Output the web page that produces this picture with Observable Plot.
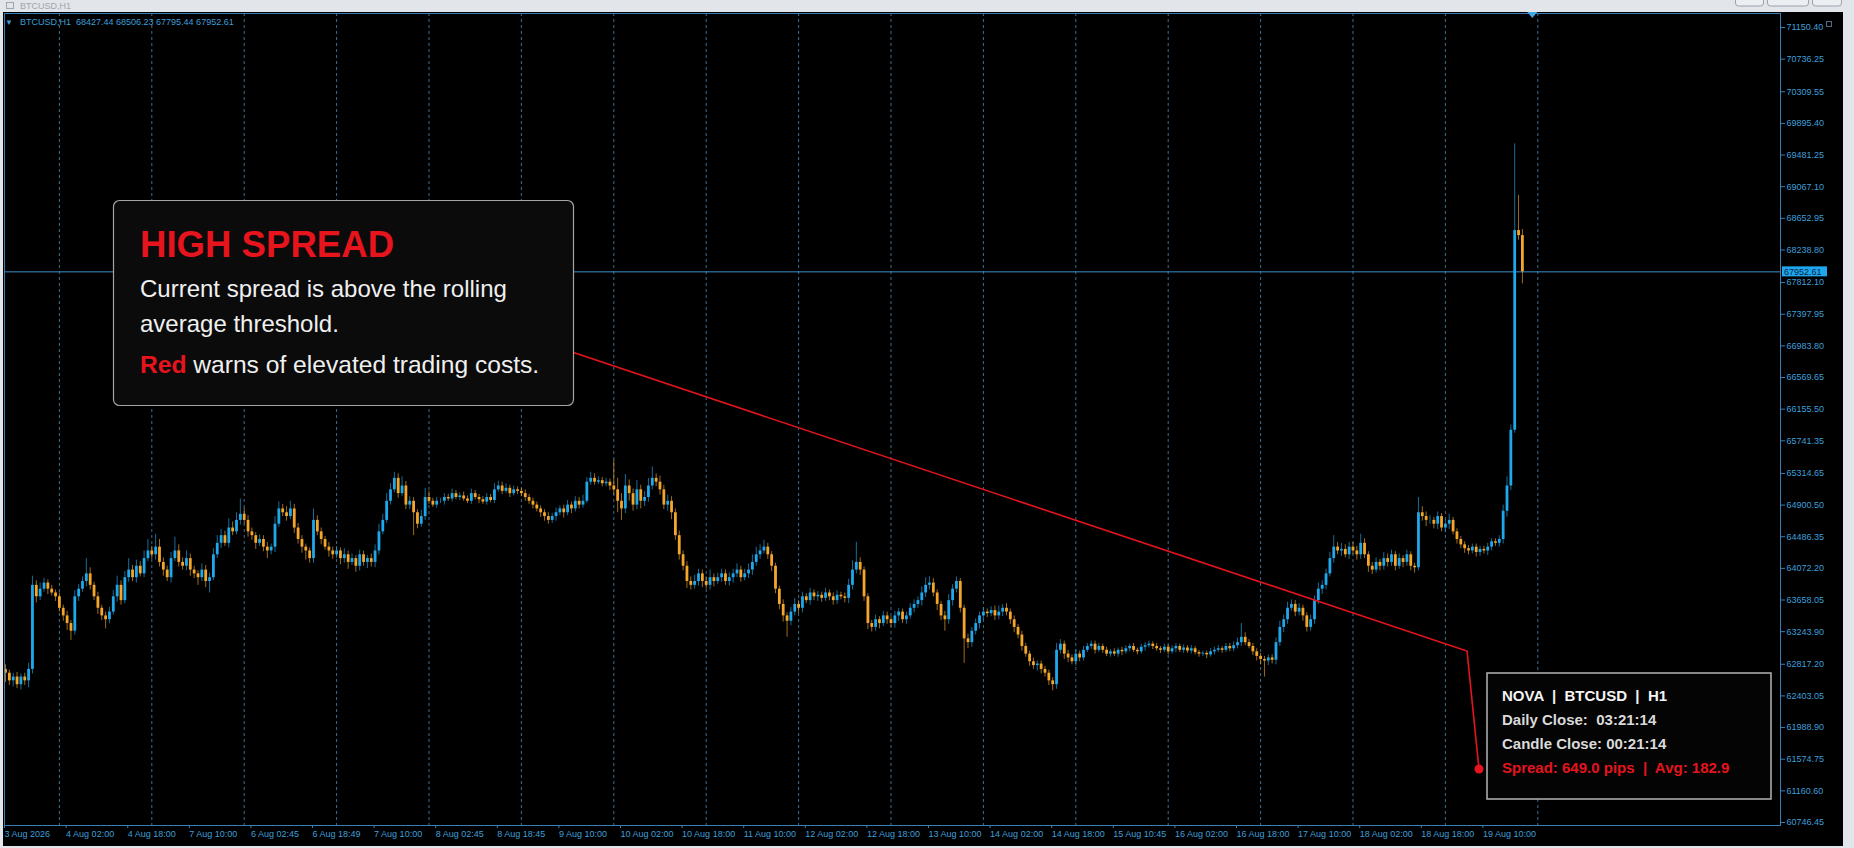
<!DOCTYPE html>
<html><head><meta charset="utf-8">
<script src="https://cdn.jsdelivr.net/npm/d3@7"></script>
<script src="https://cdn.jsdelivr.net/npm/@observablehq/plot@0.6"></script>
<style>
html,body{margin:0;padding:0;background:#e2e5e9;overflow:hidden;}
#page{position:relative;width:1854px;height:848px;}
#chart{position:absolute;left:3px;top:12px;width:1840px;height:834px;background:#000;}
#overlay{position:absolute;left:0;top:0;pointer-events:none;}
</style></head>
<body><div id="page"><div id="chart"></div><svg id="overlay" width="1854" height="848"></svg></div>
<script>
// ---- data ----
const symbol = "BTCUSD,H1";
const firstOpen = 62750;
const closes = [
62700,62600,62650,62550,62650,62600,62750,63850,63700,63800,63880,63800,63750,63700,63550,63450,63350,63250,63700,63800,
63900,64000,63850,63700,63550,63450,63400,63500,63700,63850,63650,63950,64050,63950,64100,64000,64200,64300,64250,64350,
64150,64050,63950,64200,64300,64150,64100,64200,64050,64000,63950,64050,63900,63950,64250,64400,64500,64400,64600,64550,
64700,64780,64700,64550,64500,64400,64450,64350,64300,64350,64650,64850,64800,64750,64850,64600,64450,64350,64300,64200,
64700,64550,64450,64350,64300,64250,64300,64200,64250,64150,64200,64100,64250,64150,64200,64150,64300,64550,64700,64950,
65100,65250,65050,65150,64900,64950,64800,64650,64750,65000,64950,64900,64950,64950,65000,64980,65050,65000,65020,64980,
64950,65050,65000,64970,64940,65000,64960,65100,65150,65080,65120,65050,65100,65080,65050,65000,64950,64900,64850,64800,
64750,64700,64750,64800,64850,64800,64900,64850,64950,64900,64950,65200,65250,65200,65220,65180,65200,65150,65100,64950,
64850,65150,65050,64900,65100,64950,65000,65150,65250,65200,65100,64900,64950,64800,64500,64250,64100,63900,63850,63900,
64000,63900,63850,63950,63900,63950,64000,63900,63950,64000,64050,63950,64000,64050,64150,64250,64300,64350,64250,64100,
63800,63600,63450,63380,63500,63600,63550,63700,63650,63750,63700,63720,63680,63750,63700,63650,63720,63700,63680,63850,
64050,64150,64050,63700,63350,63300,63400,63350,63450,63400,63350,63450,63500,63400,63450,63550,63600,63650,63750,63850,
63880,63750,63600,63450,63400,63650,63800,63900,63550,63150,63100,63250,63350,63450,63500,63480,63520,63450,63500,63550,
63500,63400,63300,63200,63050,62950,62850,62800,62820,62750,62700,62600,62550,63000,63080,62950,62900,62850,62950,62900,
63000,63050,63080,63000,63050,63000,62950,62980,62950,63000,62980,63020,63050,63000,62980,63040,63060,63080,63050,63020,
63000,63040,62980,63020,63050,63000,63030,62990,63020,62970,62950,62960,62940,62980,63000,63020,63000,63050,63020,63060,
63100,63170,63100,63050,62980,62920,62880,62860,62900,62870,63100,63300,63400,63550,63600,63500,63550,63450,63300,63400,
63650,63800,63850,64000,64200,64350,64300,64320,64250,64350,64300,64250,64400,64250,64100,64050,64150,64100,64200,64150,
64250,64100,64200,64150,64250,64100,64080,64800,64750,64700,64700,64650,64750,64600,64650,64700,64550,64450,64380,64330,
64300,64350,64280,64320,64300,64350,64420,64400,64450,64820,65150,65880,68493,68427.44,67952.61
];
// wick length above the body top (price points)
const wickHi = [
60,40,50,60,40,50,80,120,60,80,60,40,50,40,50,40,60,40,80,60,
60,200,80,40,60,40,50,60,80,120,60,80,150,60,80,60,100,150,60,170,
100,60,50,80,180,80,60,100,60,50,40,80,60,60,80,100,80,60,120,80,
100,200,80,60,50,40,60,50,60,40,100,90,60,80,100,60,60,50,40,40,
150,60,50,40,60,50,60,40,80,50,60,40,60,50,40,60,80,100,80,100,
80,80,60,120,60,60,50,40,80,120,80,40,50,40,50,40,60,40,40,50,
40,60,40,40,40,50,40,80,60,50,60,40,50,40,40,50,40,40,40,40,
40,50,40,60,40,50,60,40,60,50,80,60,80,60,50,40,50,40,340,150,
100,150,80,60,120,60,80,100,150,60,80,60,80,60,50,60,50,60,60,80,
60,50,60,100,50,60,60,50,60,60,80,50,60,80,100,100,80,90,50,40,
40,40,60,40,60,80,50,60,40,60,40,50,40,60,40,50,60,40,50,80,
120,265,60,40,40,40,60,40,60,50,40,60,50,40,50,60,60,50,80,100,
80,60,40,40,60,80,60,60,40,40,60,50,60,50,60,40,50,60,80,50,
60,40,50,40,50,40,40,50,40,40,40,40,40,90,60,40,50,40,60,40,
50,40,40,40,40,30,40,30,40,30,40,40,30,40,30,40,40,40,30,40,
30,40,30,40,40,30,40,30,40,30,30,30,30,40,40,40,30,40,40,50,
60,180,60,40,40,40,40,40,40,40,60,80,60,80,60,50,60,40,40,60,
60,80,60,60,80,150,60,80,60,60,60,60,120,60,40,50,60,40,80,60,
60,40,60,40,60,40,40,200,80,60,60,40,60,40,60,80,40,40,40,40,
40,40,40,40,40,50,40,40,50,80,120,70,1135,460,78.79
];
// wick length below the body bottom (price points)
const wickLo = [
120,60,80,50,70,60,90,60,80,50,40,70,40,60,50,70,90,120,50,60,
40,70,60,50,80,60,120,50,40,70,60,40,60,50,70,40,50,40,60,70,
60,80,50,70,40,60,50,60,80,60,100,50,80,150,40,50,70,40,60,50,
40,60,50,70,60,80,40,60,100,50,70,40,50,60,40,70,60,80,120,60,
60,50,70,40,80,60,50,80,60,90,40,80,60,50,80,60,70,50,40,40,
50,40,60,40,60,60,300,60,40,50,40,30,40,30,50,30,40,30,40,30,
30,40,30,50,30,40,30,40,30,40,30,50,30,40,40,50,40,50,40,60,
60,50,40,60,40,70,40,60,40,50,40,30,40,40,30,40,40,60,70,150,
150,60,100,80,60,100,70,60,50,60,70,60,80,90,60,70,60,90,60,50,
60,80,50,60,70,40,60,50,60,70,50,60,40,60,70,50,60,40,60,70,
60,70,80,210,60,50,70,60,40,60,50,60,50,40,50,60,50,40,60,70,
60,50,70,60,80,60,50,70,40,60,50,60,70,50,60,40,60,50,70,60,
60,50,80,60,150,60,70,50,60,320,80,60,50,70,60,50,40,60,50,60,
50,60,70,50,60,40,60,50,70,60,50,60,80,60,50,70,60,40,60,50,
40,30,40,50,30,40,30,40,30,40,50,30,40,30,40,30,50,30,40,30,
40,30,40,30,50,30,40,30,40,30,40,30,50,30,40,30,40,30,40,40,
40,50,40,30,50,60,70,210,60,50,60,50,70,60,40,60,50,70,60,50,
60,50,70,60,40,60,50,70,40,60,50,70,60,50,80,60,40,60,50,60,
50,60,40,70,50,60,70,40,60,80,50,60,70,50,60,70,40,60,50,60,
50,40,60,50,40,60,50,40,50,60,80,60,40,60,157.17
];
// price axis tick values (right)
const yTicks = [71150.40,70736.25,70309.55,69895.40,69481.25,69067.10,68652.95,68238.80,67812.10,67397.95,
66983.80,66569.65,66155.50,65741.35,65314.65,64900.50,64486.35,64072.20,63658.05,63243.90,
62817.20,62403.05,61988.90,61574.75,61160.60,60746.45];
// time axis labels, one every 16 bars starting at bar 0
const xLabels = ["3 Aug 2026","4 Aug 02:00","4 Aug 18:00","7 Aug 10:00","6 Aug 02:45","6 Aug 18:49","7 Aug 10:00",
"8 Aug 02:45","8 Aug 18:45","9 Aug 10:00","10 Aug 02:00","10 Aug 18:00","11 Aug 10:00","12 Aug 02:00","12 Aug 18:00",
"13 Aug 10:00","14 Aug 02:00","14 Aug 18:00","15 Aug 10:45","16 Aug 02:00","16 Aug 18:00","17 Aug 10:00",
"18 Aug 02:00","18 Aug 18:00","19 Aug 10:00"];
const labelEvery = 16;
// day separators (bar index of each midnight)
const daySeparators = [14,38,62,86,110,134,158,182,206,230,254,278,302,326,350,374,398];
// panel texts
const alertTitle = "HIGH SPREAD";
const alertLines = ["Current spread is above the rolling", "average threshold."];
const alertRedWord = "Red", alertTail = " warns of elevated trading costs.";
const infoLines = ["NOVA  |  BTCUSD  |  H1", "Daily Close:  03:21:14", "Candle Close: 00:21:14"];
const spreadText = "Spread: 649.0 pips  |  Avg: 182.9";

// ---- build candles ----
const candles = closes.map((c, i) => {
  const o = i === 0 ? firstOpen : closes[i - 1];
  return {i, open: o, close: c, high: Math.max(o, c) + wickHi[i], low: Math.min(o, c) - wickLo[i], up: c >= o};
});
const last = candles[candles.length - 1];
const bull = "#1fa8ec", bear = "#f3a62a";
const axisColor = "#3f9fd8";
const tickIdx = xLabels.map((_, k) => k * labelEvery);
const labelMap = new Map(tickIdx.map((t, k) => [t, xLabels[k]]));

const plot = Plot.plot({
  width: 1840, height: 834,
  marginTop: 1, marginRight: 63, marginBottom: 21, marginLeft: 1,
  x: {domain: [-0.26, 461.04], axis: null, label: null},
  y: {domain: [60707.2, 71333.6], axis: null, label: null},
  style: {background: "#000", color: axisColor, fontFamily: "'Liberation Sans', Arial, sans-serif", fontSize: "9px", overflow: "visible"},
  marks: [
    Plot.ruleX(daySeparators, {x: d => d, stroke: "#3d6e91", strokeDasharray: "3,3", strokeWidth: 1}),
    Plot.ruleY([last.close], {y: d => d, stroke: "#3a8fc8", strokeWidth: 1}),
    Plot.ruleX(candles.filter(d => d.up), {x: "i", y1: "low", y2: "high", stroke: bull, strokeOpacity: 0.65}),
    Plot.ruleX(candles.filter(d => !d.up), {x: "i", y1: "low", y2: "high", stroke: bear, strokeOpacity: 0.65}),
    Plot.ruleX(candles.filter(d => d.up), {x: "i", y1: "open", y2: "close", stroke: bull, strokeWidth: 2.8}),
    Plot.ruleX(candles.filter(d => !d.up), {x: "i", y1: "open", y2: "close", stroke: bear, strokeWidth: 2.8}),
    Plot.frame({stroke: "#3a7fb3"}),
    Plot.axisY({anchor: "right", ticks: yTicks, tickFormat: d => d.toFixed(2), tickSize: 4, tickPadding: 2, label: null, stroke: "#3a7fb3", fill: axisColor}),
    Plot.axisX({anchor: "bottom", ticks: tickIdx, tickFormat: d => labelMap.get(d), tickSize: 3, tickPadding: 2, textAnchor: "start", dx: -1, label: null, stroke: "#3a7fb3", fill: axisColor})
  ]
});
document.getElementById("chart").appendChild(plot);

// ---- overlay (chrome, annotation panels) ----
const ov = d3.select("#overlay");
const ox = 3, oy = 12; // chart offset in page
const font = "'Liberation Sans', Arial, sans-serif";

// window title strip text + buttons
ov.append("text").attr("x", 20).attr("y", 9).attr("font-family", font).attr("font-size", 9).attr("fill", "#a0a6ae").text(symbol);
ov.append("rect").attr("x", 6.5).attr("y", 2.5).attr("width", 7).attr("height", 6).attr("fill", "none").attr("stroke", "#a0a6ae");
[[1735, 28], [1767, 41], [1812, 29]].forEach(([x, w]) => {
  ov.append("rect").attr("x", x + 0.5).attr("y", -4).attr("width", w).attr("height", 10).attr("rx", 3)
    .attr("fill", "#eceff2").attr("stroke", "#9ca2aa");
});

// chart header
ov.append("text").attr("x", 5).attr("y", 25).attr("font-family", font).attr("font-size", 8).attr("fill", axisColor).text("▼");
ov.append("text").attr("x", 20).attr("y", 25).attr("font-family", font).attr("font-size", 9).attr("fill", axisColor)
  .attr("xml:space", "preserve").style("white-space", "pre")
  .text(`${symbol}  ${last.open.toFixed(2)} ${last.high.toFixed(2)} ${last.low.toFixed(2)} ${last.close.toFixed(2)}`);

// chart shift marker and corner icon
const xs = plot.scale("x"), ys = plot.scale("y");
const shiftX = ox + xs.apply(daySeparators[daySeparators.length - 1]) - 5;
ov.append("path").attr("d", `M${shiftX - 5},12 L${shiftX + 5},12 L${shiftX},18 Z`).attr("fill", "#3fa9e8");
ov.append("rect").attr("x", 1826.5).attr("y", 21.5).attr("width", 5).attr("height", 5).attr("fill", "none").attr("stroke", "#4d6f8c");

// current price label on the axis
const py = oy + ys.apply(last.close);
ov.append("rect").attr("x", 1782).attr("y", py - 5).attr("width", 45).attr("height", 10).attr("fill", "#1ea6ee");
ov.append("text").attr("x", 1784).attr("y", py + 3.3).attr("font-family", font).attr("font-size", 9).attr("fill", "#0a2540").text(last.close.toFixed(2));

// connector
const red = "#e5141d";
ov.append("polyline").attr("points", "560,348 1467,651 1479,769").attr("fill", "none").attr("stroke", red).attr("stroke-width", 1.6);
ov.append("circle").attr("cx", 1479).attr("cy", 769).attr("r", 4.5).attr("fill", red);

// alert panel
ov.append("rect").attr("x", 113.5).attr("y", 200.5).attr("width", 460).attr("height", 205).attr("rx", 6)
  .attr("fill", "#0b0b0b").attr("stroke", "#a5a5a5").attr("stroke-width", 1.2);
ov.append("text").attr("x", 140).attr("y", 257).attr("font-family", font).attr("font-size", 36.6).attr("font-weight", "bold").attr("fill", red).text(alertTitle);
alertLines.forEach((t, k) => {
  ov.append("text").attr("x", 140).attr("y", [297, 332][k]).attr("font-family", font).attr("font-size", 24).attr("fill", "#f0f0f0").text(t);
});
const l3 = ov.append("text").attr("x", 140).attr("y", 373).attr("font-family", font).attr("font-size", 24.6).attr("fill", "#f0f0f0");
l3.append("tspan").attr("font-weight", "bold").attr("fill", red).text(alertRedWord);
l3.append("tspan").attr("xml:space", "preserve").style("white-space", "pre").text(alertTail);

// info panel
ov.append("rect").attr("x", 1487).attr("y", 673).attr("width", 284).attr("height", 126)
  .attr("fill", "#040404").attr("stroke", "#b4b4b4").attr("stroke-width", 1.5);
infoLines.forEach((t, k) => {
  ov.append("text").attr("x", 1502).attr("y", [701, 725, 749][k]).attr("font-family", font).attr("font-size", 15)
    .attr("font-weight", "bold").attr("fill", k === 0 ? "#f4f4f4" : "#dadada")
    .attr("xml:space", "preserve").style("white-space", "pre").text(t);
});
ov.append("text").attr("x", 1502).attr("y", 773).attr("font-family", font).attr("font-size", 15).attr("font-weight", "bold")
  .attr("fill", red).attr("xml:space", "preserve").style("white-space", "pre").text(spreadText);
</script></body></html>
